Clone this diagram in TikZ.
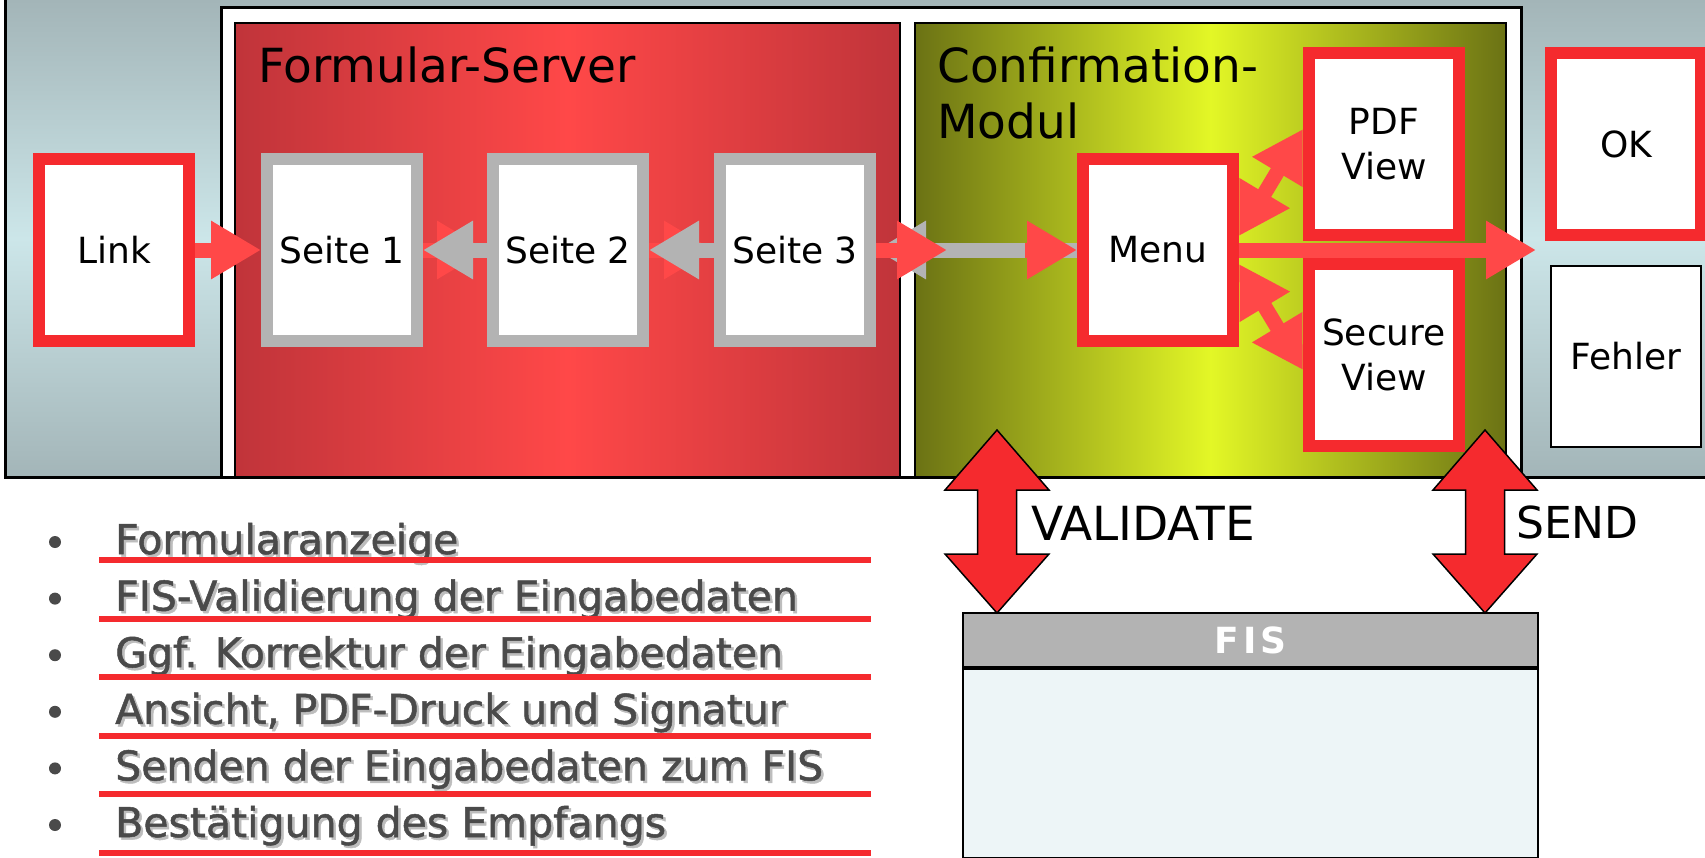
\documentclass[tikz,border=0pt]{standalone}
\usepackage{fontspec}
\setmainfont{DejaVu Sans}
\usetikzlibrary{arrows.meta}

\definecolor{boxred}{HTML}{F52A2E}
\definecolor{arrowred}{HTML}{FF4848}
\definecolor{pagegrey}{HTML}{B3B3B3}
\definecolor{panellight}{HTML}{CCE6E9}
\definecolor{paneldark}{HTML}{A3B5B8}
\definecolor{serverdark}{HTML}{C0343A}
\definecolor{serverlight}{HTML}{FF4848}
\definecolor{confdark}{HTML}{6B7214}
\definecolor{conflight}{HTML}{E3F726}
\definecolor{fisbody}{HTML}{EDF5F7}
\definecolor{itemtext}{HTML}{4A4A4A}
\definecolor{itemshadow}{HTML}{BDBDBD}

\newcommand{\boxfont}{\fontsize{36}{45}\selectfont}
\newcommand{\titlefont}{\fontsize{47}{56}\selectfont}
\newcommand{\sendfont}{\fontsize{44}{50}\selectfont}
\newcommand{\itemfont}{\fontsize{41}{48}\selectfont\addfontfeature{FakeBold=1.2}}
\newcommand{\fisfont}{\fontsize{36}{40}\selectfont\bfseries\addfontfeature{LetterSpace=12}}

% block arrow between Confirmation-Modul and FIS, #1 = x of its axis
\newcommand{\fisarrow}[1]{%
  \draw[line width=1.5pt, fill=boxred, line join=miter]
    (#1,430) -- ++(52,60) -- ++(-32.5,0) -- ++(0,64) -- ++(32.5,0)
    -- ++(-52,59) -- ++(-52,-59) -- ++(32.5,0) -- ++(0,-64)
    -- ++(-32.5,0) -- cycle;}

\tikzset{
  every node/.style={font=\boxfont},
  redbox/.style={draw=boxred, fill=white, line width=12pt, minimum width=150pt,
    minimum height=182pt, inner sep=0pt, align=center},
  pagebox/.style={redbox, draw=pagegrey},
  plainbox/.style={draw=black, fill=white, line width=2pt, minimum width=150pt,
    minimum height=181pt, inner sep=0pt, align=center},
  redarrow/.style={arrowred, line width=15pt, -{Triangle[width=55pt,length=50pt]}},
  greyarrow/.style={redarrow, pagegrey},
  dblarrow/.style={redarrow, {Triangle[width=55pt,length=50pt]}-{Triangle[width=55pt,length=50pt]}},
}

\begin{document}
\begin{tikzpicture}[x=1pt, y=-1pt]
    \useasboundingbox (0,0) rectangle (1705,857);

    % background panels
    \shade[top color=paneldark, bottom color=paneldark, middle color=panellight]
        (5,0) rectangle (1710,477);
    \draw[line width=3pt] (5,-5) -- (5,477) -- (1710,477);
    \draw[line width=3pt, fill=white] (221,7) rectangle (1521,477);
    \draw[line width=2.5pt, left color=serverdark, right color=serverdark,
        middle color=serverlight] (235,23) rectangle (900,477);
    \draw[line width=2.5pt, left color=confdark, right color=confdark,
        middle color=conflight] (915,23) rectangle (1506,477);

    \node[font=\titlefont, anchor=base west, inner sep=0pt] (server) at (258,82) {Formular-Server};
    \node[font=\titlefont, anchor=north west, inner sep=0pt, align=left] (confirm)
        at (937,47) {Confirmation-\\Modul};

    % boxes
    \node[redbox] (link) at (114,250) {Link};
    \node[pagebox] (seite1) at (342,250) {Seite 1};
    \node[pagebox] (seite2) at (568,250) {Seite 2};
    \node[pagebox] (seite3) at (795,250) {Seite 3};
    \node[redbox] (menu) at (1158,250) {Menu};
    \node[redbox] (pdf) at (1384,144) {PDF\\View};
    \node[redbox] (secure) at (1384,355) {Secure\\View};
    \node[redbox] (ok) at (1626,144) {OK};
    \node[plainbox] (fehler) at (1626,356) {Fehler};

    % connectors
    \draw[redarrow] (link.east) -- (seite1.west);
    \draw[redarrow] (seite1.east) -- (seite2.west);
    \draw[greyarrow] (seite2.west) -- (seite1.east);
    \draw[redarrow] (seite2.east) -- (seite3.west);
    \draw[greyarrow] (seite3.west) -- (seite2.east);
    \draw[greyarrow] (menu.west) -- (seite3.east);
    \coordinate (pass) at (947,250);
    \coordinate (back) at (1025,250);
    \draw[redarrow] (seite3.east) -- (pass);
    \draw[redarrow] (back) -- (menu.west);
    \draw[dblarrow] ([yshift=14pt]menu.east) -- ([yshift=15pt]pdf.west);
    \draw[dblarrow] ([yshift=-14pt]menu.east) -- ([yshift=-15pt]secure.west);
    \coordinate (okin) at (1536,250);
    \draw[redarrow] (menu.east) -- (okin);

    % FIS
    \node[draw, line width=2pt, fill=pagegrey, minimum width=575pt, minimum height=54pt,
        inner sep=0pt, anchor=north west, text=white, font=\fisfont] (fis) at (962,612) {FIS};
    \node[draw, line width=2pt, fill=fisbody, minimum width=575pt, minimum height=189pt,
        inner sep=0pt, anchor=north] (fisdb) at (fis.south) {};
    \fisarrow{997}
    \fisarrow{1485}
    \node[font=\titlefont, anchor=base west, inner sep=0pt] (validate) at (1031,540) {VALIDATE};
    \node[font=\sendfont, anchor=base west, inner sep=0pt] (send) at (1516,538) {SEND};

    % list of steps
    \foreach \txt [count=\i from 0] in {Formularanzeige, FIS-Validierung der Eingabedaten,
        Ggf. Korrektur der Eingabedaten, {Ansicht, PDF-Druck und Signatur},
        Senden der Eingabedaten zum FIS, Bestätigung des Empfangs} {
        \pgfmathsetmacro\ybase{554+56.6*\i}
        \pgfmathsetmacro\yline{560+58.6*\i}
        \fill[itemtext] (55,\ybase-12) circle (6pt);
        \node[font=\itemfont, text=itemshadow, anchor=base west, inner sep=0pt]
            (shadow\i) at (117.5,\ybase+2.5) {\txt};
        \node[font=\itemfont, text=itemtext, anchor=base west, inner sep=0pt]
            (item\i) at (115,\ybase) {\txt};
        \draw[boxred, line width=6pt] (99,\yline) -- (871,\yline);
    }
\end{tikzpicture}
\end{document}
